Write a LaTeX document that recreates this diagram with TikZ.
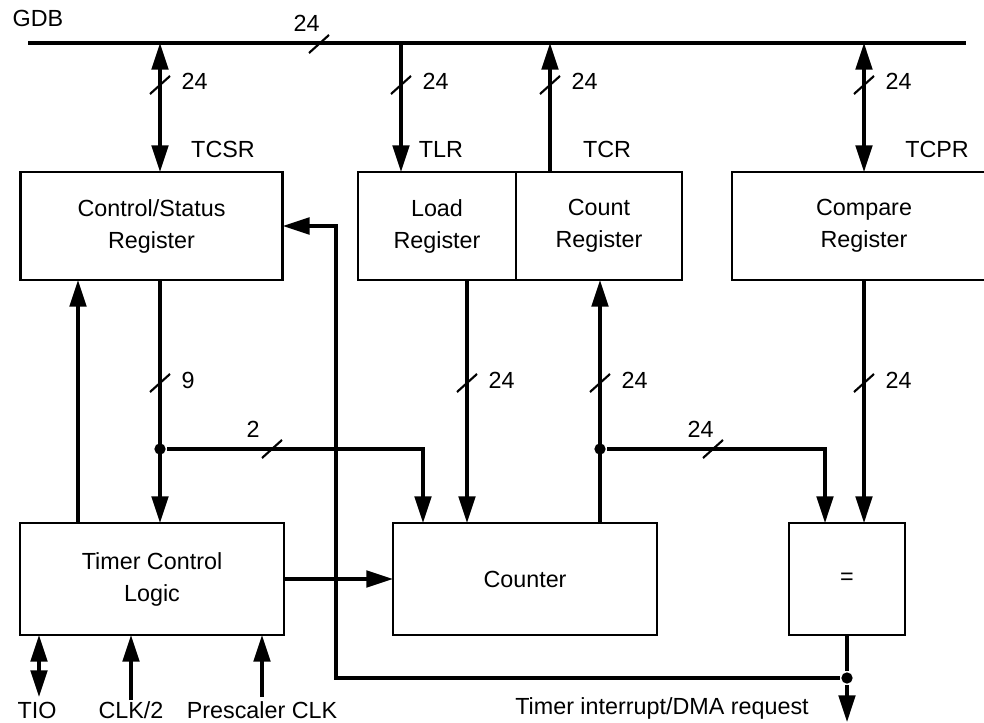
\documentclass[tikz,border=0pt]{standalone}
\usepackage{fontspec}
\setmainfont{Liberation Sans}
\usetikzlibrary{arrows.meta,positioning}

\begin{document}
\begin{tikzpicture}[
  x=0.75pt,y=-0.75pt,
  font=\fontsize{17.5}{24}\selectfont,
  line width=2.3pt,
  >={Triangle[length=20pt,width=12.5pt]},
  box/.style={draw,line width=2.2pt,align=center,inner sep=0pt,outer sep=0pt,minimum height=81pt},
  lbl/.style={anchor=base,inner sep=0pt},
  dot/.style={circle,fill,inner sep=0pt,minimum size=8.5pt},
  bus/.style={line width=2.6pt},
  vmark/.pic={\draw[line width=1.6pt] (-10,9) -- (10,-9);
    \node[anchor=base west,inner sep=0pt] (-n) at (20,5) {#1};},
  hmark/.pic={\draw[line width=1.6pt] (-10,9) -- (10,-9);
    \node[anchor=base west,inner sep=0pt] (-n) at (-27,-12) {#1};}
]
\useasboundingbox (0,0) rectangle (984,723);
% columns and rows
\coordinate (cT) at (39,0);
\coordinate (cA) at (78,0);
\coordinate (cK) at (131,0);
\coordinate (cB) at (160,0);
\coordinate (cP) at (262,0);
\coordinate (cC) at (336,0);
\coordinate (cD) at (401,0);
\coordinate (cE) at (423,0);
\coordinate (cF) at (467,0);
\coordinate (cG) at (550,0);
\coordinate (cH) at (600,0);
\coordinate (cI) at (825,0);
\coordinate (rJ) at (0,449);
\coordinate (rF) at (0,678);
\coordinate (rIn) at (0,697);
\coordinate (rClk) at (0,700);
% registers
\node[box,minimum width=197pt] (csr) at (151.5,226) {Control/Status\\Register};
\node[box,minimum width=118.5pt] (load) at (437,226) {Load\\Register};
\node[box,minimum width=124.5pt,right=0pt of load] (count) {Count\\Register};
\node[box,minimum width=198pt] (cmp) at (864,226) {Compare\\Register};
% lower blocks
\node[box,minimum width=198pt,minimum height=84pt] (tcl) at (152,579) {Timer Control\\Logic};
\node[box,minimum width=198pt,minimum height=84pt] (ctr) at (525,579) {Counter};
\node[box,minimum width=87pt,minimum height=84pt] (eq) at (847,579) {=};
% GDB bus
\coordinate (busL) at (28,43);
\coordinate (busR) at (966,43);
\draw[bus] (busL) -- (busR);
\node[lbl] (gdb) at (38,27) {GDB};
\pic (mb) at (319,44) {hmark=24};
\draw[<->] (cB |- busL) -- (cB |- csr.north);
\pic (m1) at (160,85) {vmark=24};
\draw[->] (cD |- busL) -- (cD |- load.north);
\pic (m2) at (401,85) {vmark=24};
\draw[->] (cG |- count.north) -- (cG |- busL);
\pic (m3) at (550,85) {vmark=24};
\draw[<->] (cmp.north |- busL) -- (cmp.north);
\pic (m4) at (864,85) {vmark=24};
\node[lbl] (tcsr) at (223,158) {TCSR};
\node[lbl] (tlr) at (441,158) {TLR};
\node[lbl] (tcr) at (607,158) {TCR};
\node[lbl] (tcpr) at (937,158) {TCPR};
% middle connections
\draw[->] (cA |- tcl.north) -- (cA |- csr.south);
\draw[->] (cB |- csr.south) -- (cB |- tcl.north);
\pic (m5) at (160,383) {vmark=9};
\node[dot] (j1) at (cB |- rJ) {};
\draw[->] (j1) -| (cE |- ctr.north);
\pic (m6) at (272,449) {hmark=2};
\draw[->] (cF |- load.south) -- (cF |- ctr.north);
\pic (m7) at (467,383) {vmark=24};
\draw[->] (cH |- ctr.north) -- (cH |- count.south);
\pic (m8) at (600,383) {vmark=24};
\node[dot] (j2) at (cH |- rJ) {};
\draw[->] (j2) -| (cI |- eq.north);
\pic (m9) at (713,449) {hmark=24};
\draw[->] (cmp.south) -- (cmp.south |- eq.north);
\pic (m10) at (864,383) {vmark=24};
\draw[->] (tcl.east) -- (tcl.east -| ctr.west);
% compare output and feedback
\node[dot] (j3) at (eq.south |- rF) {};
\coordinate (out) at (847,722);
\draw (eq.south) -- (j3);
\draw[->] (j3) -- (j3 -| cC) |- (csr.east);
\draw[->] (j3) -- (out);
\node[lbl] (irq) at (662,714) {Timer interrupt/DMA request};
% inputs
\draw[<->] (cT |- tcl.south) -- (cT |- rIn);
\draw[->] (cK |- rClk) -- (cK |- tcl.south);
\draw[->] (cP |- rIn) -- (cP |- tcl.south);
\node[lbl] (tio) at (37,718) {TIO};
\node[lbl] (clk) at (131,718) {CLK/2};
\node[lbl] (pre) at (262,718) {Prescaler CLK};
\end{tikzpicture}
\end{document}
